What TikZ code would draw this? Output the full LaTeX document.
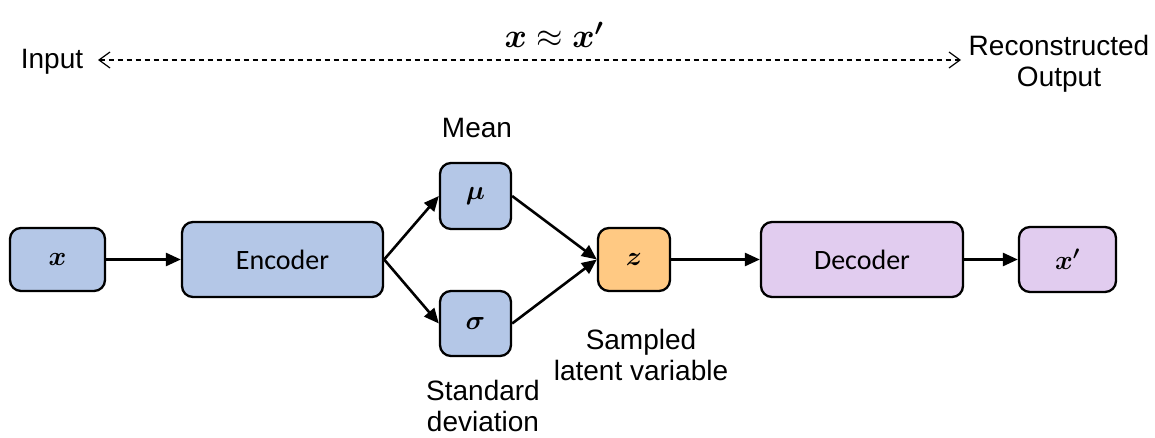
\RequirePackage{fix-cm}
\documentclass[tikz,border=0pt]{standalone}
\usepackage{bm}
\usepackage{fontspec}
\setmainfont{Liberation Sans}
\newfontfamily\boxfont{Carlito}
\usetikzlibrary{arrows.meta}
\definecolor{bluefill}{HTML}{B4C7E7}
\definecolor{orangefill}{HTML}{FFC983}
\definecolor{purplefill}{HTML}{E1CCEF}
\begin{document}
\begin{tikzpicture}[x=1pt,y=-1pt,
  blk/.style={draw=black, line width=2.3pt, rounded corners=11pt, inner sep=0pt, font=\boxfont\fontsize{28}{32}\selectfont},
  lbl/.style={align=center, font=\fontsize{28}{31}\selectfont, inner sep=0pt},
  arr/.style={line width=2.6pt, -{Triangle[length=15pt,width=13pt]}},
  dasharr/.style={line width=1.2pt, dash pattern=on 5pt off 4pt, {Straight Barb[length=11pt,width=16pt]}-{Straight Barb[length=11pt,width=16pt]}}]
\useasboundingbox (0,0) rectangle (1155,438);
\newcommand{\msym}[1]{{\fontsize{27}{30}\selectfont$\bm{#1}$}}
\node[blk, fill=bluefill, minimum width=95pt, minimum height=63pt] (x) at (57.5,259.5) {\msym{x}};
\node[blk, fill=bluefill, minimum width=201pt, minimum height=75pt] (enc) at (282.5,259.5) {Encoder};
\node[blk, fill=bluefill, minimum width=71pt, minimum height=66pt] (mu) at (475.5,196) {\msym{\mu}};
\node[blk, fill=bluefill, minimum width=71pt, minimum height=65pt] (sigma) at (475.5,323.5) {\msym{\sigma}};
\node[blk, fill=orangefill, minimum width=72pt, minimum height=63pt] (z) at (634,259.5) {\msym{z}};
\node[blk, fill=purplefill, minimum width=202pt, minimum height=75pt] (dec) at (862,259.5) {Decoder};
\node[blk, fill=purplefill, minimum width=97pt, minimum height=65pt] (xp) at (1067.5,259.5) {\msym{x'}};

\node[lbl] (mean) at (477,128) {Mean};
\node[lbl] (std) at (483,406) {Standard\\deviation};
\node[lbl] (samp) at (641,355) {Sampled\\latent variable};
\node[lbl] (inp) at (52,62) {Input};
\node[lbl] (rec) at (1059,64) {Reconstructed\\Output};
\node[inner sep=0pt, font=\fontsize{34}{38}\selectfont] (eq) at (554,35) {$\bm{x}\approx\bm{x'}$};

\coordinate (dl) at (98,60);
\coordinate (dr) at (961,60);
\draw[dasharr] (dl) -- (dr);

\draw[arr] (x.east) -- (enc.west);
\draw[arr] (enc.east) -- (mu.west);
\draw[arr] (enc.east) -- (sigma.west);
\draw[arr] (mu.east) -- (z.west);
\draw[arr] (sigma.east) -- (z.west);
\draw[arr] (z.east) -- (dec.west);
\draw[arr] (dec.east) -- (xp.west);
\end{tikzpicture}
\end{document}
